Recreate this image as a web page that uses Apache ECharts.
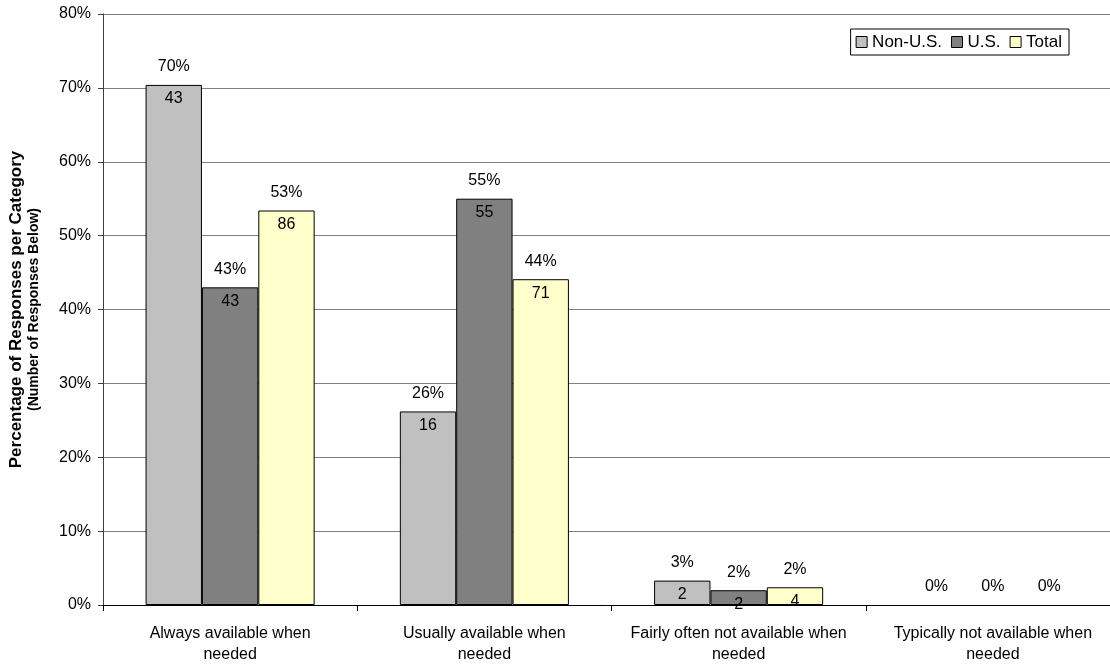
<!DOCTYPE html>
<html>
<head>
<meta charset="utf-8">
<script src="https://cdn.jsdelivr.net/npm/echarts@6/dist/echarts.min.js"></script>
<style>
html,body{margin:0;padding:0;background:#fff;}
#chart{width:1110px;height:666px;}
</style>
</head>
<body>
<div id="chart"></div>
<script>
const categories = [
  'Always available when\nneeded',
  'Usually available when\nneeded',
  'Fairly often not available when\nneeded',
  'Typically not available when\nneeded'
];
const seriesNames = ['Non-U.S.', 'U.S.', 'Total'];
const nonUSPct = [70.4, 26.2, 3.3, 0];
const usPct = [43, 55, 2, 0];
const totalPct = [53.4, 44.1, 2.4, 0];
const nonUSCount = [43, 16, 2, 0];
const usCount = [43, 55, 2, 0];
const totalCount = [86, 71, 4, 0];
const colors = ['#C0C0C0', '#808080', '#FFFFCC'];

const FONT = '"Liberation Sans", Arial, sans-serif';

function makeSeries(name, pct, counts, color) {
  return {
    name: name,
    type: 'bar',
    data: pct.map(function (v) {
      return v === 0 ? { value: v, itemStyle: { borderWidth: 0 } } : v;
    }),
    barGap: '0%',
    barCategoryGap: '33.5%',
    itemStyle: { color: color, borderColor: '#000', borderWidth: 1 },
    emphasis: { disabled: true },
    label: {
      show: true,
      position: ['50%', -36],
      align: 'center',
      verticalAlign: 'top',
      fontFamily: FONT,
      color: '#000',
      formatter: function (p) {
        const c = counts[p.dataIndex];
        const t = '{p|' + Math.round(p.value) + '%}';
        return c ? t + '\n{c|' + c + '}' : t;
      },
      rich: {
        p: { fontSize: 16, lineHeight: 36, fontFamily: FONT, color: '#000' },
        c: { fontSize: 16, lineHeight: 28, fontFamily: FONT, color: '#000' }
      }
    }
  };
}

const chart = echarts.init(document.getElementById('chart'));
chart.setOption({
  animation: false,
  backgroundColor: '#fff',
  textStyle: { fontFamily: FONT },
  grid: { left: 103, width: 1017, top: 14, bottom: 61, containLabel: false, outerBoundsMode: 'none' },
  legend: {
    data: seriesNames,
    right: 41,
    top: 29,
    orient: 'horizontal',
    icon: 'rect',
    itemWidth: 11,
    itemHeight: 11,
    itemGap: 9,
    padding: [3, 7, 3, 5],
    borderColor: '#000',
    borderWidth: 1,
    backgroundColor: '#fff',
    selectedMode: false,
    itemStyle: { borderColor: '#000', borderWidth: 1 },
    textStyle: { fontSize: 17, lineHeight: 20, fontFamily: FONT, color: '#000' }
  },
  xAxis: {
    type: 'category',
    data: categories,
    boundaryGap: true,
    axisLine: { show: true, lineStyle: { color: '#000', width: 1 } },
    axisTick: { show: true, length: 6, interval: 0, lineStyle: { color: '#000' } },
    axisLabel: { interval: 0, margin: 18, fontSize: 16, lineHeight: 21, color: '#000', fontFamily: FONT },
    splitLine: { show: false }
  },
  yAxis: {
    type: 'value',
    min: 0,
    max: 80,
    interval: 10,
    name: '{a|Percentage of Responses per Category}\n{b|(Number of Responses Below)}',
    nameLocation: 'middle',
    nameGap: 61,
    nameRotate: 90,
    nameTextStyle: {
      align: 'center',
      rich: {
        a: { fontSize: 17, fontWeight: 'bold', lineHeight: 19, fontFamily: FONT, color: '#000', align: 'center' },
        b: { fontSize: 14, fontWeight: 'bold', lineHeight: 16, fontFamily: FONT, color: '#000', align: 'center' }
      }
    },
    axisLine: { show: true, lineStyle: { color: '#404040', width: 1 } },
    axisTick: { show: true, length: 5, lineStyle: { color: '#404040' } },
    axisLabel: { formatter: '{value}%', fontSize: 16, margin: 12, color: '#000', fontFamily: FONT },
    splitLine: { show: true, lineStyle: { color: '#808080', width: 1 } }
  },
  series: [
    makeSeries(seriesNames[0], nonUSPct, nonUSCount, colors[0]),
    makeSeries(seriesNames[1], usPct, usCount, colors[1]),
    makeSeries(seriesNames[2], totalPct, totalCount, colors[2])
  ]
});
</script>
</body>
</html>
